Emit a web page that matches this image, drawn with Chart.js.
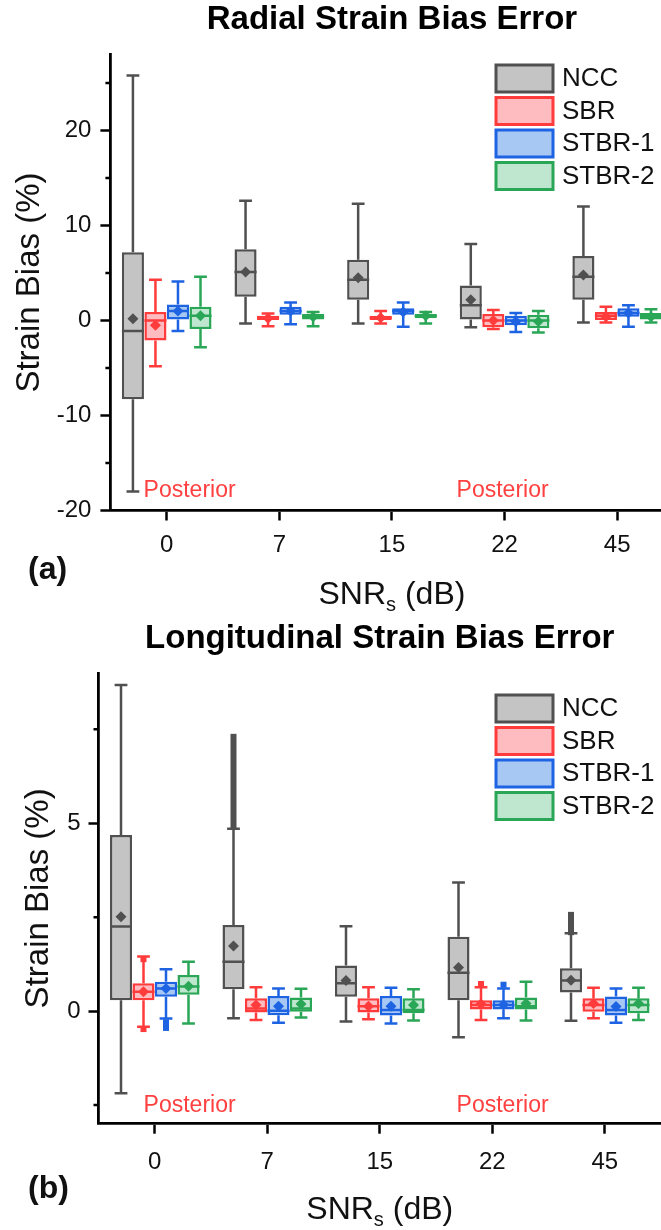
<!DOCTYPE html>
<html>
<head>
<meta charset="utf-8">
<script src="https://cdn.jsdelivr.net/npm/chart.js@4.4.1/dist/chart.umd.min.js"></script>
<style>
  html, body { margin: 0; padding: 0; background: #fff; overflow: hidden; width: 661px; height: 1230px; }
  canvas { display: block; }
</style>
</head>
<body>
<canvas id="radial" width="680" height="615"></canvas>
<canvas id="longit" width="680" height="615"></canvas>
<script>
var snrLabels = ['0', '7', '15', '22', '45'];
var seriesNames = ['NCC', 'SBR', 'STBR-1', 'STBR-2'];

// each row: [min, q1, median, q3, max, mean] for one SNR
var radNCC = [[-18.0, -8.3, -1.1, 7.2, 25.8, 0.2], [-0.3, 2.5, 5.1, 7.5, 12.6, 5.1], [-0.3, 2.2, 4.3, 6.4, 12.3, 4.5], [-0.7, 0.1, 1.6, 3.7, 8.05, 2.2], [-0.2, 2.2, 4.6, 6.8, 12.0, 4.8]];
var radSBR = [[-4.8, -2.1, 0.0, 0.9, 4.3, -0.5], [-0.6, 0.05, 0.3, 0.5, 0.75, 0.25], [-0.3, 0.05, 0.3, 0.5, 1.0, 0.3], [-0.9, -0.7, 0.0, 0.7, 1.1, 0.0], [-0.2, 0.05, 0.5, 0.9, 1.45, 0.4]];
var radSTBR1 = [[-1.1, 0.1, 1.0, 1.7, 4.1, 1.0], [-0.4, 0.6, 1.0, 1.45, 1.9, 1.0], [-0.65, 0.6, 1.0, 1.3, 1.9, 0.9], [-1.2, -0.5, 0.0, 0.5, 0.8, -0.1], [-0.65, 0.4, 0.8, 1.3, 1.6, 0.8]];
var radSTBR2 = [[-2.8, -0.9, 0.5, 1.45, 4.6, 0.5], [-0.6, 0.1, 0.4, 0.7, 0.9, 0.4], [-0.3, 0.25, 0.5, 0.7, 0.9, 0.5], [-1.25, -0.8, 0.0, 0.6, 1.0, -0.1], [-0.2, 0.1, 0.5, 0.8, 1.2, 0.4]];

var lonNCC = [[-2.19, 0.29, 2.25, 4.69, 8.68, 2.51], [-0.19, 0.58, 1.31, 2.29, 4.85, 1.73], [-0.28, 0.38, 0.74, 1.21, 2.26, 0.81], [-0.70, 0.29, 1.02, 1.98, 3.42, 1.16], [-0.26, 0.49, 0.81, 1.14, 2.07, 0.82]];
var lonSBR = [[-0.42, 0.29, 0.51, 0.74, 1.45, 0.51], [-0.24, -0.04, 0.07, 0.34, 0.63, 0.16], [-0.22, -0.04, 0.13, 0.34, 0.63, 0.13], [-0.24, 0.04, 0.16, 0.29, 0.63, 0.19], [-0.19, -0.02, 0.16, 0.34, 0.62, 0.2]];
var lonSTBR1 = [[-0.2, 0.38, 0.6, 0.78, 1.11, 0.6], [-0.31, -0.11, 0.01, 0.4, 0.6, 0.13], [-0.33, -0.12, 0.03, 0.4, 0.62, 0.13], [-0.19, 0.04, 0.16, 0.29, 0.6, 0.17], [-0.31, -0.12, 0.03, 0.39, 0.6, 0.12]];
var lonSTBR2 = [[-0.33, 0.43, 0.65, 0.96, 1.31, 0.66], [-0.17, -0.02, 0.07, 0.36, 0.59, 0.19], [-0.25, -0.06, 0.03, 0.34, 0.58, 0.16], [-0.25, 0.04, 0.13, 0.36, 0.78, 0.2], [-0.24, -0.06, 0.16, 0.34, 0.62, 0.2]];

// outlier ranges [from, to] per SNR (dense outliers look like a solid bar)
var radNone = [[], [], [], [], []];
var lonNCCOut = [[], [[4.9, 7.3]], [], [], [[2.1, 2.56]]];
var lonSBROut = [[[1.38, 1.38], [-0.48, -0.48]], [], [], [[0.72, 0.72]], []];
var lonSTBR1Out = [[[-0.45, -0.3]], [], [], [[0.7, 0.7]], []];
var lonSTBR2Out = [[], [], [], [], []];

var radYTicks = [-20, -10, 0, 10, 20];
var radYMinor = [-15, -5, 5, 15, 25];
var lonYTicks = [0, 5];
var lonYMinor = [-2.5, 2.5, 7.5];

var FONT = "'Liberation Sans', Arial, sans-serif";
var borderColors = ['#505050', '#ff3b3b', '#1d63e2', '#2aa657'];
var fillColors = ['#c4c4c4', '#ffbcc0', '#a8c8f4', '#bfe6cf'];

var extras = {
    id: 'extras',
    afterDatasetsDraw: function (chart) {
        var ctx = chart.ctx, ys = chart.scales.y;
        ctx.save();
        chart.data.datasets.forEach(function (ds, i) {
            var meta = chart.getDatasetMeta(i);
            meta.data.forEach(function (bar, j) {
                var s = ds.stats[j], x = bar.x, hw = bar.width / 2, cap = bar.width * 0.29;
                var p = function (v) { return ys.getPixelForValue(v); };
                ctx.strokeStyle = ds.borderColor;
                ctx.lineWidth = 2.5;
                ctx.beginPath();
                ctx.moveTo(x, p(s[3])); ctx.lineTo(x, p(s[4]));
                ctx.moveTo(x, p(s[1])); ctx.lineTo(x, p(s[0]));
                ctx.moveTo(x - cap, p(s[4])); ctx.lineTo(x + cap, p(s[4]));
                ctx.moveTo(x - cap, p(s[0])); ctx.lineTo(x + cap, p(s[0]));
                ctx.moveTo(x - hw, p(s[2])); ctx.lineTo(x + hw, p(s[2]));
                ctx.stroke();
                ctx.fillStyle = ds.borderColor;
                var my = p(s[5]);
                ctx.beginPath();
                ctx.moveTo(x, my - 5.5); ctx.lineTo(x + 5.5, my); ctx.lineTo(x, my + 5.5); ctx.lineTo(x - 5.5, my);
                ctx.closePath();
                ctx.fill();
                ds.outliers[j].forEach(function (o) {
                    var a = p(o[0]), b = p(o[1]);
                    ctx.fillRect(x - 3, Math.min(a, b) - 3, 6, Math.abs(a - b) + 6);
                });
            });
        });
        ctx.restore();
    },
    afterDraw: function (chart, args, opts) {
        var ctx = chart.ctx, ys = chart.scales.y, area = chart.chartArea;
        ctx.save();
        // minor y ticks
        ctx.strokeStyle = '#000';
        ctx.lineWidth = 2.5;
        ctx.beginPath();
        opts.minor.forEach(function (v) {
            var py = ys.getPixelForValue(v);
            ctx.moveTo(area.left - 5, py);
            ctx.lineTo(area.left, py);
        });
        ctx.stroke();

        // legend
        chart.data.datasets.forEach(function (ds, i) {
            var top = opts.legendTop + i * 32.5;
            ctx.fillStyle = ds.backgroundColor;
            ctx.fillRect(opts.legendX, top, 57, 27);
            ctx.strokeStyle = ds.borderColor;
            ctx.lineWidth = 3;
            ctx.strokeRect(opts.legendX, top, 57, 27);
            ctx.fillStyle = '#111';
            ctx.font = '26px ' + FONT;
            ctx.textAlign = 'left';
            ctx.textBaseline = 'middle';
            ctx.fillText(ds.label, opts.legendX + 66, top + 14);
        });

        // Posterior labels
        ctx.fillStyle = '#ff4040';
        ctx.font = '23px ' + FONT;
        ctx.textAlign = 'center';
        ctx.textBaseline = 'middle';
        opts.posteriorX.forEach(function (px) {
            ctx.fillText('Posterior', px, area.bottom - opts.posteriorDy);
        });

        // x axis title with subscript
        var cx = (area.left + area.right) / 2, ty = opts.xTitleY;
        ctx.fillStyle = '#111';
        ctx.textAlign = 'left';
        ctx.textBaseline = 'middle';
        ctx.font = '32px ' + FONT;
        var w1 = ctx.measureText('SNR').width, w3 = ctx.measureText(' (dB)').width;
        ctx.font = '20px ' + FONT;
        var w2 = ctx.measureText('s').width;
        var x0 = cx - (w1 + w2 + w3) / 2;
        ctx.font = '32px ' + FONT;
        ctx.fillText('SNR', x0, ty);
        ctx.fillText(' (dB)', x0 + w1 + w2, ty);
        ctx.font = '20px ' + FONT;
        ctx.fillText('s', x0 + w1, ty + 10);

        // panel letter
        ctx.font = 'bold 32px ' + FONT;
        ctx.fillText(opts.panel, opts.panelX, opts.panelY);
        ctx.restore();
    }
};

function makeDatasets(stats, outs) {
    return stats.map(function (s, i) {
        return {
            label: seriesNames[i],
            data: s.map(function (r) { return [r[1], r[3]]; }),
            stats: s,
            outliers: outs[i],
            backgroundColor: fillColors[i],
            borderColor: borderColors[i],
            borderWidth: 2.5,
            borderSkipped: false,
            categoryPercentage: 0.8,
            barPercentage: 0.98
        };
    });
}

function makeOptions(cfg) {
    var tickGrid = { display: true, drawOnChartArea: false, drawTicks: true, tickLength: 10, tickWidth: 2.5, tickColor: '#000', offset: false };
    var axisBorder = { display: true, color: '#000', width: 2.8 };
    return {
        responsive: false,
        animation: false,
        events: [],
        layout: { padding: { left: 0, right: cfg.padRight, top: 0, bottom: 0 } },
        plugins: {
            legend: { display: false },
            tooltip: { enabled: false },
            title: {
                display: true, text: cfg.title, fullSize: false, color: '#000',
                font: { family: FONT, size: 33, weight: 'bold' },
                padding: { top: cfg.titleTop, bottom: cfg.titleBottom }
            },
            extras: cfg.extras
        },
        scales: {
            x: {
                grid: tickGrid,
                border: axisBorder,
                ticks: { color: '#111', font: { family: FONT, size: 24 }, padding: cfg.xPad, maxRotation: 0, autoSkip: false },
                afterFit: function (s) { s.height = cfg.xHeight; }
            },
            y: {
                min: cfg.yMin,
                max: cfg.yMax,
                grid: tickGrid,
                border: axisBorder,
                ticks: { color: '#111', font: { family: FONT, size: 24 }, padding: cfg.yPad },
                title: {
                    display: true, text: 'Strain Bias (%)', color: '#111',
                    font: { family: FONT, size: 33 }, padding: { top: cfg.yTitlePad, bottom: 0 }
                },
                afterBuildTicks: function (s) { s.ticks = cfg.yTicks.map(function (v) { return { value: v }; }); },
                afterFit: function (s) { s.width = cfg.yWidth; }
            }
        }
    };
}

new Chart(document.getElementById('radial'), {
    type: 'bar',
    data: { labels: snrLabels, datasets: makeDatasets([radNCC, radSBR, radSTBR1, radSTBR2], [radNone, radNone, radNone, radNone]) },
    options: makeOptions({
        title: 'Radial Strain Bias Error', titleTop: 0, titleBottom: 15,
        padRight: 6.5, yWidth: 110.4, xHeight: 104.5, yMin: -20, yMax: 28,
        yTicks: radYTicks, yPad: 9, xPad: 10, yTitlePad: 10,
        extras: { minor: radYMinor, legendX: 496, legendTop: 65, posteriorX: [189.6, 502.6], posteriorDy: 19.5, xTitleY: 595, panel: '(a)', panelX: 28, panelY: 570 }
    }),
    plugins: [extras]
});

new Chart(document.getElementById('longit'), {
    type: 'bar',
    data: { labels: snrLabels, datasets: makeDatasets([lonNCC, lonSBR, lonSTBR1, lonSTBR2], [lonNCCOut, lonSBROut, lonSTBR1Out, lonSTBR2Out]) },
    options: makeOptions({
        title: 'Longitudinal Strain Bias Error', titleTop: 4, titleBottom: 14.4,
        padRight: 19, yWidth: 98.5, xHeight: 106.3, yMin: -3, yMax: 9,
        yTicks: lonYTicks, yPad: 8, xPad: 14, yTitlePad: 19,
        extras: { minor: lonYMinor, legendX: 496, legendTop: 80, posteriorX: [189.6, 502.6], posteriorDy: 17.7, xTitleY: 595, panel: '(b)', panelX: 28, panelY: 574 }
    }),
    plugins: [extras]
});
</script>
</body>
</html>
